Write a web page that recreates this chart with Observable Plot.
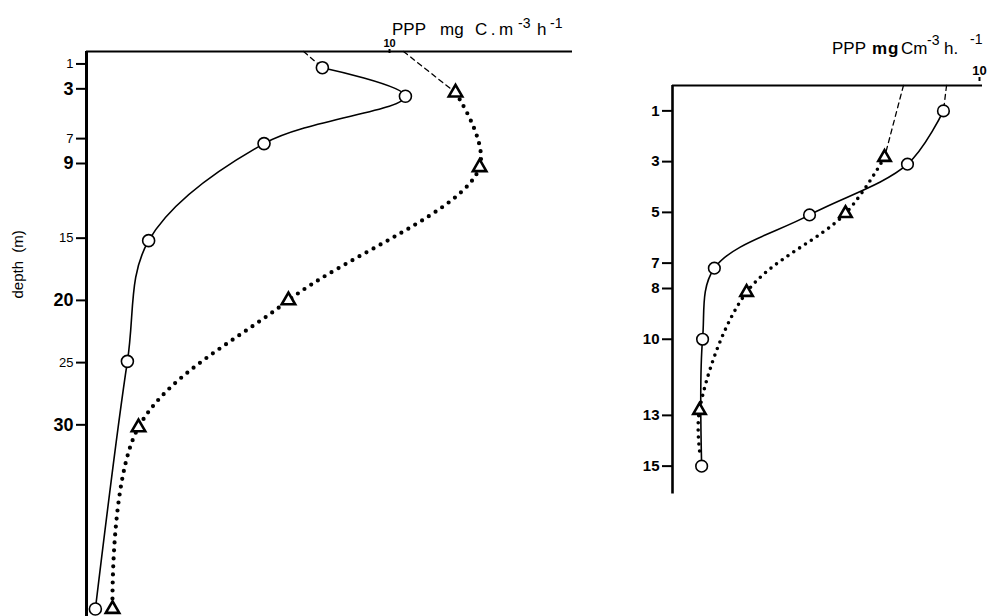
<!DOCTYPE html>
<html><head><meta charset="utf-8">
<script src="https://cdn.jsdelivr.net/npm/d3@7"></script>
<script src="https://cdn.jsdelivr.net/npm/@observablehq/plot@0.6"></script>
<style>
body{margin:0;background:#fff;}
#wrap{position:relative;width:992px;height:616px;overflow:hidden;font-family:"Liberation Sans",Arial,sans-serif;color:#000;background:#fff;}
.t{position:absolute;white-space:nowrap;font-size:17px;line-height:17px;}
.s{position:absolute;white-space:nowrap;font-size:14px;line-height:14px;}
</style></head><body><div id="wrap">
<div id="left" style="position:absolute;left:0;top:0"></div>
<div id="right" style="position:absolute;left:600px;top:0"></div>
<!-- left unit label -->
<span class="t" style="left:392px;top:21px;">PPP</span>
<span class="t" style="left:440px;top:21px;">mg</span>
<span class="t" style="left:475px;top:21px;letter-spacing:3.5px;">C.m</span>
<span class="s" style="left:518px;top:16px;">-3</span>
<span class="t" style="left:537px;top:21px;">h</span>
<span class="s" style="left:550px;top:16px;">-1</span>
<!-- right unit label -->
<span class="t" style="left:832px;top:40px;">PPP</span>
<span class="t" style="left:872px;top:40px;font-weight:bold;letter-spacing:1px;">mg</span>
<span class="t" style="left:901px;top:40px;">Cm</span>
<span class="s" style="left:927px;top:33px;">-3</span>
<span class="t" style="left:944px;top:40px;">h.</span>
<span class="s" style="left:970px;top:32px;">-1</span>
</div>
<script>
// ---- Left profile (depth m, PPP mg C m^-3 h^-1) ----
const leftCircleDepth = [1.3, 3.6, 7.4, 15.2, 24.9, 44.8];
const leftCircleValue = [7.44, 10.06, 5.6, 1.96, 1.29, 0.28];
const leftTriDepth = [3.3, 9.3, 20, 30.2, 44.8];
const leftTriValue = [11.64, 12.4, 6.37, 1.64, 0.82];
const leftCircleSurface = 6.85;
const leftTriSurface = 10;
const leftTicksThin = [1, 7, 15, 25];
const leftTicksBold = [3, 9, 20, 30];
const leftXTicks = [10];

// ---- Right profile ----
const rightCircleDepth = [1, 3.1, 5.1, 7.2, 10, 15];
const rightCircleValue = [8.74, 7.58, 4.42, 1.35, 0.97, 0.94];
const rightTriDepth = [2.83, 5.04, 8.15, 12.8, 14.65];
const rightTriValue = [6.84, 5.58, 2.39, 0.87, 0.9];
const rightTriMarked = [true, true, true, true, false];
const rightCircleSurface = 8.84;
const rightTriSurface = 7.45;
const rightTicks = [1, 3, 5, 7, 8, 10, 13, 15];
const rightXTicks = [10];

const zip = (ds, vs) => ds.map((d, i) => ({d, v: vs[i], i}));
const lc = zip(leftCircleDepth, leftCircleValue);
const lt = zip(leftTriDepth, leftTriValue);
const rc = zip(rightCircleDepth, rightCircleValue);
const rt = zip(rightTriDepth, rightTriValue);

const font = "Liberation Sans, Arial, sans-serif";

function profile({circles, tris, triMarked, cSurf, tSurf, xmax, axisEnd,
                  thin, bold, boldSize, xt, xtdx, xtdy, xtSize, cr, tr, dotW, dotGap, axisW}) {
  const marks = [
    Plot.ruleX([0], {y1: 0, y2: axisEnd, strokeWidth: axisW, stroke: "black"}),
    Plot.ruleY([0], {x1: 0, x2: xmax, strokeWidth: 2.2, stroke: "black"}),
    Plot.axisX(xt, {anchor: "top", tickSize: 4, tickPadding: 2, fontSize: xtSize, fontWeight: "bold", dx: xtdx, dy: xtdy, label: null, strokeWidth: 2, fill: "black"}),
  ];
  if (thin.length) marks.push(Plot.axisY(thin, {anchor: "left", tickSize: 10, tickPadding: 3, fontSize: 13, label: null, strokeWidth: 2, fill: "black"}));
  marks.push(Plot.axisY(bold, {anchor: "left", tickSize: 10, tickPadding: 3, fontSize: boldSize, fontWeight: "bold", label: null, strokeWidth: 2, fill: "black"}));
  marks.push(
    Plot.line(tris, {x: "v", y: "d", curve: "catmull-rom", stroke: "black", strokeWidth: dotW, strokeDasharray: `0 ${dotGap}`, strokeLinecap: "round"}),
    Plot.line(circles, {x: "v", y: "d", curve: "catmull-rom", stroke: "black", strokeWidth: 1.6}),
    Plot.line([{v: cSurf, d: 0}, circles[0]], {x: "v", y: "d", stroke: "black", strokeWidth: 1.3, strokeDasharray: "5 4"}),
    Plot.line([{v: tSurf, d: 0}, tris[0]], {x: "v", y: "d", stroke: "black", strokeWidth: 1.3, strokeDasharray: "5 4"}),
    Plot.dot(tris.filter((p) => triMarked[p.i]), {x: "v", y: "d", symbol: "triangle", r: tr, stroke: "black", strokeWidth: 2.6, fill: "white"}),
    Plot.dot(circles, {x: "v", y: "d", r: cr, stroke: "black", strokeWidth: 1.6, fill: "white"})
  );
  return marks;
}

const leftMarks = profile({circles: lc, tris: lt, triMarked: lt.map(() => true), cSurf: leftCircleSurface, tSurf: leftTriSurface,
  xmax: 15.33, axisEnd: 46, thin: leftTicksThin, bold: leftTicksBold, boldSize: 18, xt: leftXTicks, xtdx: -14, xtdy: 1, xtSize: 11,
  cr: 6, tr: 5, dotW: 4.2, dotGap: 8, axisW: 3});
leftMarks.push(Plot.text(["depth\u00a0\u00a0(m)"], {frameAnchor: "left", dx: -68, dy: -33, rotate: -90, fontSize: 15, fontFamily: font, fill: "black"}));

const left = Plot.plot({
  width: 600, height: 616, marginLeft: 86, marginRight: 28, marginTop: 51, marginBottom: 5,
  style: {fontFamily: font, background: "transparent", color: "black"},
  x: {domain: [0, 15.33], axis: null},
  y: {domain: [0, 45], reverse: true, axis: null},
  marks: leftMarks
});
document.getElementById("left").appendChild(left);

const rightMarks = profile({circles: rc, tris: rt, triMarked: rightTriMarked, cSurf: rightCircleSurface, tSurf: rightTriSurface,
  xmax: 10, axisEnd: 16.1, thin: [], bold: rightTicks, boldSize: 15, xt: rightXTicks, xtdx: -3, xtdy: -5, xtSize: 13,
  cr: 5.8, tr: 4.6, dotW: 3.6, dotGap: 7, axisW: 2.6});
const right = Plot.plot({
  width: 392, height: 616, marginLeft: 72, marginRight: 10, marginTop: 85, marginBottom: 125,
  style: {fontFamily: font, background: "transparent", color: "black"},
  x: {domain: [0, 10], axis: null},
  y: {domain: [0, 16], reverse: true, axis: null},
  marks: rightMarks
});
document.getElementById("right").appendChild(right);
</script>
</body></html>
